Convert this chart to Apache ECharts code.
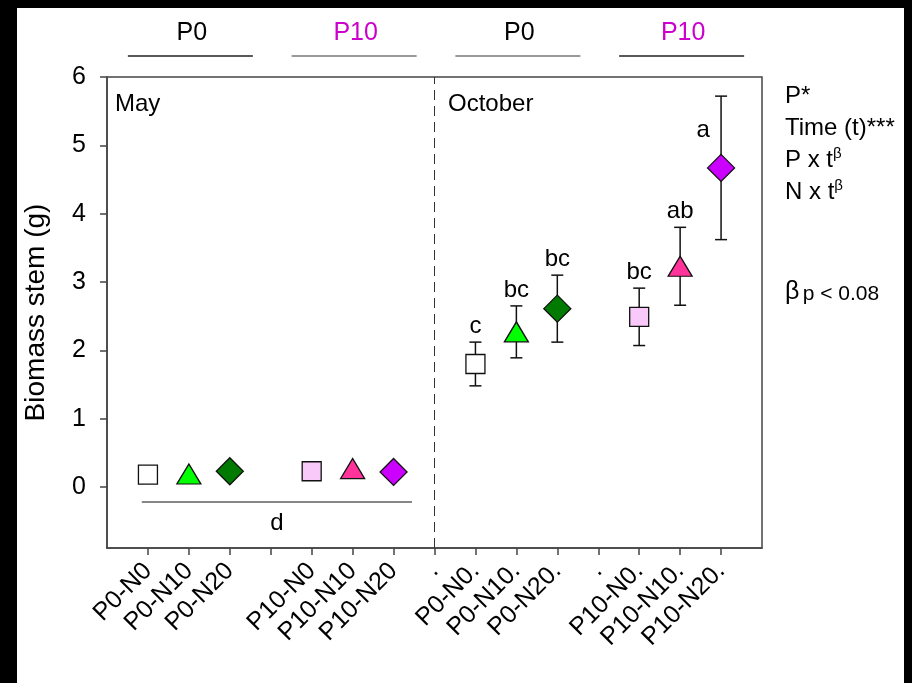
<!DOCTYPE html>
<html>
<head>
<meta charset="utf-8">
<script src="https://cdn.jsdelivr.net/npm/echarts@6/dist/echarts.min.js"></script>
<style>
  html, body { margin: 0; padding: 0; background: #000; }
  #chart { position: absolute; left: 17px; top: 8px; width: 887px; height: 675px; background: #fff; }
</style>
</head>
<body>
<div id="chart"></div>
<script>
// Treatments (phosphorus x nitrogen) and stem biomass (g) per sampling date
const categories = ['P0-N0', 'P0-N10', 'P0-N20', 'P10-N0', 'P10-N10', 'P10-N20'];
const mayMean = [0.18, 0.19, 0.23, 0.23, 0.27, 0.22];
const octMean = [1.80, 2.27, 2.61, 2.49, 3.23, 4.67];
const octErr = [0.32, 0.38, 0.49, 0.42, 0.57, 1.05];
const octLetters = ['c', 'bc', 'bc', 'bc', 'ab', 'a'];
const mayLetter = 'd';

// x-axis tick labels, one per tick slot (1..15)
const tickLabels = ['P0-N0', 'P0-N10', 'P0-N20', '', 'P10-N0', 'P10-N10', 'P10-N20', '.',
  'P0-N0.', 'P0-N10.', 'P0-N20.', '.', 'P10-N0.', 'P10-N10.', 'P10-N20.'];
const yTicks = [0, 1, 2, 3, 4, 5, 6];

// header groups above the plot
const headerLabels = ['P0', 'P10', 'P0', 'P10'];
const periodLabels = ['May', 'October'];
const statsLines = ['P*', 'Time (t)***', 'P x t', 'N x t'];
const footnote = 'p < 0.08';

const FONT = '"Liberation Sans", Arial, Helvetica, sans-serif';
const fillColors = ['#ffffff', '#00ff00', '#007a00', '#f9c9f9', '#ff3399', '#cc00ff'];
const symbols = ['rect', 'triangle', 'diamond', 'rect', 'triangle', 'diamond'];
const symbolSizes = [[19, 19], [24, 20], [27, 27], [19, 19], [24, 20], [27, 27]];
const headerTextColors = ['#000000', '#cc00cc', '#000000', '#cc00cc'];
const headerLineColors = ['#222222', '#777777', '#777777', '#222222'];

const mayX = categories.map(c => tickLabels.indexOf(c) + 1);
const octX = categories.map(c => tickLabels.indexOf(c + '.') + 1);
const headerX = [mayX[1], mayX[4], octX[1], octX[4]];

const chart = echarts.init(document.getElementById('chart'));

const scatterSeries = categories.map((c, i) => ({
  name: c,
  type: 'scatter',
  z: 5,
  symbol: symbols[i],
  symbolSize: symbolSizes[i],
  itemStyle: { color: fillColors[i], borderColor: '#111', borderWidth: 1.3, opacity: 1 },
  emphasis: { disabled: true },
  data: [[mayX[i], mayMean[i]], [octX[i], octMean[i]]]
}));

// separator between the two sampling dates
scatterSeries[0].markLine = {
  silent: true,
  symbol: 'none',
  label: { show: false },
  lineStyle: { type: [10, 6], color: '#333', width: 1 },
  data: [{ xAxis: 8 }]
};

const errorSeries = {
  type: 'custom',
  z: 3,
  silent: true,
  clip: false,
  data: categories.map((c, i) => [octX[i], octMean[i], octErr[i], octLetters[i]]),
  renderItem: function (params, api) {
    const x = api.value(0), m = api.value(1), e = api.value(2);
    const hi = api.coord([x, m + e]);
    const lo = api.coord([x, m - e]);
    const mid = api.coord([x, m]);
    const cap = 6;
    const st = { stroke: '#111', lineWidth: 1.5 };
    const top = params.coordSys.y;
    const letter = octLetters[params.dataIndex];
    let txt;
    if (hi[1] - top < 40) {
      // no room above the cap: put the letter beside the bar
      txt = { type: 'text', style: { text: letter, x: hi[0] - 18, y: (hi[1] + mid[1]) / 2 - 2,
        align: 'center', verticalAlign: 'middle', font: '24px ' + FONT, fill: '#000' } };
    } else {
      txt = { type: 'text', style: { text: letter, x: hi[0], y: hi[1] - 16,
        align: 'center', verticalAlign: 'middle', font: '24px ' + FONT, fill: '#000' } };
    }
    return {
      type: 'group',
      children: [
        { type: 'line', shape: { x1: hi[0], y1: hi[1], x2: lo[0], y2: lo[1] }, style: st },
        { type: 'line', shape: { x1: hi[0] - cap, y1: hi[1], x2: hi[0] + cap, y2: hi[1] }, style: st },
        { type: 'line', shape: { x1: lo[0] - cap, y1: lo[1], x2: lo[0] + cap, y2: lo[1] }, style: st },
        txt
      ]
    };
  }
};

// bracket under the May observations with its shared letter
const mayBracket = {
  type: 'custom',
  silent: true,
  clip: false,
  data: [[mayX[0], mayX[5]]],
  renderItem: function (params, api) {
    const a = api.coord([api.value(0) - 0.15, -0.22]);
    const b = api.coord([api.value(1) + 0.45, -0.22]);
    return {
      type: 'group',
      children: [
        { type: 'line', shape: { x1: a[0], y1: a[1], x2: b[0], y2: b[1] }, style: { stroke: '#111', lineWidth: 1.2 } },
        { type: 'text', style: { text: mayLetter, x: (a[0] + b[0]) / 2, y: a[1] + 21,
          align: 'center', verticalAlign: 'middle', font: '24px ' + FONT, fill: '#000' } }
      ]
    };
  }
};

// phosphorus group headers drawn above the plotting area
const headerSeries = {
  type: 'custom',
  silent: true,
  clip: false,
  data: headerX.map((x, i) => [x, i]),
  renderItem: function (params, api) {
    const i = api.value(1);
    const p = api.coord([api.value(0), 0]);
    const top = params.coordSys.y;
    return {
      type: 'group',
      children: [
        { type: 'text', style: { text: headerLabels[i], x: p[0] + 3, y: top - 44,
          align: 'center', verticalAlign: 'middle', font: '25px ' + FONT, fill: headerTextColors[i] } },
        { type: 'line', shape: { x1: p[0] - 61, y1: top - 21, x2: p[0] + 64, y2: top - 21 },
          style: { stroke: headerLineColors[i], lineWidth: 1.5 } }
      ]
    };
  }
};

const axisLineStyle = { color: '#444', width: 1.5 };
const supRich = (n) => ({
  text: '{n|' + n + '}{s|β}',
  rich: { n: { font: '24px ' + FONT, fill: '#000', verticalAlign: 'bottom', lineHeight: 26 },
          s: { font: '15px ' + FONT, fill: '#000', verticalAlign: 'top', lineHeight: 26 } }
});

chart.setOption({
  animation: false,
  backgroundColor: '#fff',
  textStyle: { fontFamily: FONT },
  grid: { left: 90, right: 142, top: 69, bottom: 135, show: true, borderColor: '#444', borderWidth: 1.5,
    outerBoundsMode: 'none', containLabel: false },
  xAxis: {
    type: 'value',
    min: 0,
    max: 16,
    splitLine: { show: false },
    axisLine: { show: true, onZero: false, lineStyle: axisLineStyle },
    axisTick: { show: true, inside: false, length: 7, lineStyle: axisLineStyle,
      customValues: tickLabels.map((t, i) => i + 1) },
    axisLabel: {
      customValues: tickLabels.map((t, i) => i + 1),
      formatter: v => tickLabels[Math.round(v) - 1] || '',
      rotate: 45, margin: 19, fontSize: 25, color: '#000', fontFamily: FONT
    }
  },
  yAxis: {
    type: 'value',
    min: -0.893,
    max: 6,
    name: 'Biomass stem (g)',
    nameLocation: 'middle',
    nameGap: 57,
    nameTextStyle: { fontSize: 28, color: '#000', fontFamily: FONT },
    splitLine: { show: false },
    axisLine: { show: true, onZero: false, lineStyle: axisLineStyle },
    axisTick: { show: true, inside: false, length: 7, lineStyle: axisLineStyle, customValues: yTicks },
    axisLabel: { customValues: yTicks, margin: 21, fontSize: 25, color: '#000', fontFamily: FONT }
  },
  graphic: [
    { type: 'text', left: 98, top: 84, style: { text: periodLabels[0], font: '24px ' + FONT, fill: '#000' } },
    { type: 'text', left: 431, top: 84, style: { text: periodLabels[1], font: '24px ' + FONT, fill: '#000' } },
    { type: 'text', left: 768, top: 76, style: { text: statsLines[0], font: '24px ' + FONT, fill: '#000' } },
    { type: 'text', left: 768, top: 108, style: { text: statsLines[1], font: '24px ' + FONT, fill: '#000' } },
    { type: 'text', left: 768, top: 138, style: supRich(statsLines[2]) },
    { type: 'text', left: 768, top: 170, style: supRich(statsLines[3]) },
    { type: 'text', left: 768, top: 272, style: {
      text: '{b|β} {p|' + footnote + '}',
      rich: { b: { font: '25px ' + FONT, fill: '#000', verticalAlign: 'bottom', lineHeight: 28 },
              p: { font: '21px ' + FONT, fill: '#000', verticalAlign: 'bottom', lineHeight: 28 } } } }
  ],
  series: [errorSeries, mayBracket, headerSeries].concat(scatterSeries)
});
</script>
</body>
</html>
